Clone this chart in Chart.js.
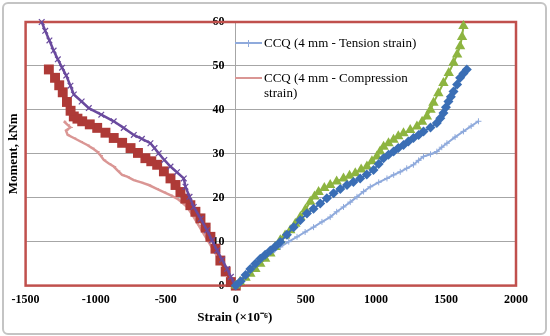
<!DOCTYPE html>
<html>
<head>
<meta charset="utf-8">
<script src="https://cdn.jsdelivr.net/npm/chart.js@4.4.1/dist/chart.umd.min.js"></script>
<style>
    body { margin: 0; background: #fff; }
    #caixa { position: relative; width: 550px; height: 336px; }
    #moldura { position: absolute; left: 2px; top: 2px; width: 541px; height: 329px; border: 2px solid #c4c4c4; border-radius: 6px; pointer-events: none; }
    .item { position: absolute; left: 235px; font-family: "Liberation Serif", "Times New Roman", serif; font-size: 13px; line-height: 15px; color: #000; }
    .amostra { position: absolute; left: 0; width: 27px; }
    .texto { position: absolute; left: 29px; top: 0; width: 170px; }
</style>
</head>
<body>
<div id="caixa">
    <canvas id="grafico" width="550" height="336"></canvas>
    <div id="moldura"></div>
    <div id="legenda"></div>
</div>
<script>
// strain (x10^-6) and moment (kNm)
const tracaoX = [0, 50, 104, 150, 199, 260, 318, 378, 437, 495, 555, 615, 674, 720, 769, 817, 865, 912, 960, 1020, 1079, 1127, 1174, 1220, 1268, 1305, 1340, 1390, 1435, 1470, 1507, 1565, 1625, 1680, 1732];
const tracaoY = [0, 1.7, 3.4, 4.8, 6.1, 7.5, 8.8, 10.0, 11.1, 12.2, 13.3, 14.5, 15.6, 16.8, 17.9, 19.0, 20.2, 21.4, 22.5, 23.5, 24.4, 25.2, 25.9, 26.7, 27.5, 28.5, 29.4, 29.9, 30.5, 31.5, 32.4, 33.8, 35.1, 36.3, 37.4];

const compressaoX = [0, -15, -50, -86, -122, -158, -193, -229, -265, -300, -324, -347, -383, -419, -467, -514, -567, -621, -675, -728, -775, -811, -841, -871, -906, -942, -965, -989, -1025, -1060, -1108, -1156, -1200, -1212, -1180, -1200, -1227];
const compressaoY = [0, 0.5, 2.3, 4.2, 6.1, 8.0, 9.9, 11.8, 13.7, 15.6, 16.8, 17.9, 18.9, 19.8, 20.6, 21.3, 22.1, 22.9, 23.5, 24.0, 24.8, 25.2, 26.1, 27.1, 27.8, 28.6, 29.6, 30.5, 31.3, 32.0, 32.8, 33.6, 34.3, 35.3, 36.0, 36.6, 37.4];

const quadradosX = [0, -35, -72, -110, -145, -181, -215, -252, -288, -324, -360, -395, -430, -466, -513, -561, -603, -645, -698, -751, -811, -871, -930, -989, -1042, -1096, -1130, -1156, -1179, -1205, -1235, -1260, -1290, -1334];
const quadradosY = [0, 0.8, 3.2, 5.7, 8.4, 11.1, 13.2, 15.3, 16.8, 18.3, 19.8, 21.3, 22.9, 24.4, 26.0, 27.5, 28.3, 29.0, 30.2, 31.3, 32.5, 33.6, 34.8, 35.9, 36.7, 37.4, 38.0, 38.5, 39.8, 41.8, 44.0, 45.6, 47.3, 49.2];

const cruzesX = [0, -10, -35, -62, -98, -133, -170, -205, -250, -300, -330, -359, -371, -420, -466, -510, -550, -580, -609, -670, -728, -800, -871, -960, -1049, -1100, -1156, -1180, -1210, -1240, -1270, -1300, -1330, -1360, -1385];
const cruzesY = [0, 0.5, 2.0, 3.8, 5.9, 8.0, 10.3, 12.6, 15.2, 17.9, 20.2, 22.5, 24.4, 25.8, 27.1, 28.6, 30.1, 31.3, 32.4, 33.4, 34.3, 35.9, 37.4, 38.9, 40.4, 41.9, 43.5, 45.5, 47.8, 49.6, 51.5, 53.5, 55.8, 58.0, 60.0];

const triangulosX = [0, 30, 70, 104, 140, 175, 210, 247, 282, 318, 352, 389, 425, 461, 497, 532, 562, 591, 632, 674, 720, 769, 812, 853, 895, 936, 972, 1007, 1030, 1055, 1090, 1126, 1160, 1197, 1245, 1293, 1330, 1364, 1390, 1411, 1446, 1482, 1520, 1554, 1580, 1601, 1615, 1625];
const triangulosY = [0, 0.8, 1.8, 2.7, 3.8, 5.0, 6.1, 7.3, 8.8, 10.3, 11.4, 12.6, 14.1, 15.6, 17.3, 19.1, 20.3, 21.3, 22.2, 22.9, 23.7, 24.4, 25.0, 25.6, 26.4, 27.1, 28.3, 29.4, 30.5, 31.6, 32.4, 33.2, 34.0, 34.7, 35.4, 36.2, 37.3, 38.5, 40.0, 41.6, 43.8, 46.1, 48.4, 50.7, 52.6, 54.5, 56.6, 59.1];

const losangosX = [0, 35, 70, 104, 140, 175, 210, 247, 282, 318, 365, 413, 460, 508, 555, 603, 650, 698, 746, 794, 840, 888, 935, 983, 1020, 1055, 1090, 1126, 1160, 1197, 1232, 1268, 1305, 1340, 1390, 1435, 1460, 1482, 1500, 1518, 1535, 1554, 1580, 1601, 1625, 1649];
const losangosY = [0, 1.0, 2.4, 3.8, 5.0, 6.1, 7.0, 8.0, 8.9, 9.9, 11.6, 13.3, 14.9, 16.4, 17.5, 18.7, 19.9, 21.0, 22.0, 22.9, 23.6, 24.4, 25.3, 26.3, 27.7, 29.0, 29.8, 30.5, 31.3, 32.0, 32.8, 33.6, 34.3, 35.1, 36.0, 37.0, 38.1, 39.3, 40.6, 41.9, 43.0, 44.2, 45.8, 47.3, 48.3, 49.2];

const ticksX = [-1500, 2000, 500];
const ticksY = [0, 60, 10];

const nomesLegenda = ['CCQ (4 mm - Tension strain)', 'CCQ (4 mm - Compression strain)'];
const tituloX = 'Strain (\u00d710\u207b\u2076)';
const tituloY = 'Moment, kNm';

const fonteSerif = '"Liberation Serif", "Times New Roman", serif';

function pontos(xs, ys) {
    const lista = [];
    for (let i = 0; i < xs.length; i++) {
        lista.push({ x: xs[i], y: ys[i] });
    }
    return lista;
}

// legenda em html, so as duas primeiras series
const legenda = document.getElementById('legenda');
const coresLegenda = ['#8FAADC', '#DA9694'];
const topos = [35, 70];
for (let i = 0; i < nomesLegenda.length; i++) {
    const item = document.createElement('div');
    item.className = 'item';
    item.style.top = topos[i] + 'px';
    let amostra = '<div class="amostra" style="top:7px;border-top:2.5px solid ' + coresLegenda[i] + '"></div>';
    if (i == 0) {
        amostra += '<div style="position:absolute;left:13px;top:5px;width:1px;height:7px;background:' + coresLegenda[i] + '"></div>';
    }
    item.innerHTML = amostra + '<div class="texto">' + nomesLegenda[i] + '</div>';
    legenda.appendChild(item);
}

const moldura = {
    id: 'moldura',
    beforeDatasetsDraw(chart) {
        const a = chart.chartArea;
        const ctx = chart.ctx;
        ctx.save();
        ctx.strokeStyle = '#C0504D';
        ctx.lineWidth = 2.5;
        ctx.strokeRect(a.left, a.top, a.right - a.left, a.bottom - a.top);
        ctx.restore();
    },
    afterDraw(chart) {
        const ctx = chart.ctx;
        ctx.save();
        ctx.font = 'bold 13px ' + fonteSerif;
        ctx.fillStyle = '#000';
        ctx.textAlign = 'center';
        ctx.textBaseline = 'middle';
        ctx.fillText(tituloX, chart.scales.x.getPixelForValue(0) - 1, 318);
        ctx.restore();
    }
};

const ctx1 = document.getElementById('grafico');

new Chart(ctx1, {
    type: 'line',
    data: {
        datasets: [{
            label: 'CCQ losangos',
            data: pontos(losangosX, losangosY),
            borderColor: '#3A6EB5',
            backgroundColor: '#3A6EB5',
            borderWidth: 2,
            pointStyle: 'rectRot',
            pointRadius: 5,
            pointBorderWidth: 0
        }, {
            label: 'CCQ triangulos',
            data: pontos(triangulosX, triangulosY),
            borderColor: '#8DB440',
            backgroundColor: '#8DB440',
            borderWidth: 2,
            pointStyle: 'triangle',
            pointRadius: 6,
            pointBorderWidth: 0
        }, {
            label: 'CCQ cruzes',
            data: pontos(cruzesX, cruzesY),
            borderColor: '#6A4A9E',
            backgroundColor: '#6A4A9E',
            borderWidth: 2.5,
            pointStyle: 'crossRot',
            pointRadius: 4,
            pointBorderWidth: 1.2
        }, {
            label: 'CCQ quadrados',
            data: pontos(quadradosX, quadradosY),
            borderColor: '#AE3A37',
            backgroundColor: '#AE3A37',
            borderWidth: 2,
            pointStyle: 'rect',
            pointRadius: 7,
            pointBorderWidth: 0
        }, {
            label: nomesLegenda[1],
            data: pontos(compressaoX, compressaoY),
            borderColor: '#DA9694',
            backgroundColor: '#DA9694',
            borderWidth: 2.5,
            pointStyle: 'dash',
            pointRadius: 2.5,
            pointBorderWidth: 1
        }, {
            label: nomesLegenda[0],
            data: pontos(tracaoX, tracaoY),
            borderColor: '#8FAADC',
            backgroundColor: '#8FAADC',
            borderWidth: 2,
            pointStyle: 'cross',
            pointRadius: 3,
            pointBorderWidth: 1
        }]
    },
    options: {
        responsive: false,
        animation: false,
        clip: false,
        layout: {
            padding: { left: 2, right: 34, top: 22, bottom: 22 }
        },
        elements: {
            line: { tension: 0, fill: false }
        },
        plugins: {
            legend: { display: false },
            tooltip: { enabled: false }
        },
        scales: {
            x: {
                type: 'linear',
                position: 'bottom',
                min: ticksX[0],
                max: ticksX[1],
                ticks: {
                    stepSize: ticksX[2],
                    padding: 7,
                    color: '#000',
                    font: { family: fonteSerif, size: 12, weight: 'bold' },
                    callback: function (valor) { return String(valor); }
                },
                // so a linha vertical do zero aparece
                grid: {
                    drawTicks: false,
                    lineWidth: 1,
                    color: function (c) { return c.tick && c.tick.value == 0 ? '#A6A6A6' : 'rgba(0,0,0,0)'; }
                },
                border: { display: false }
            },
            y: {
                type: 'linear',
                position: { x: -80 },
                min: ticksY[0],
                max: ticksY[1],
                ticks: {
                    stepSize: ticksY[2],
                    color: '#000',
                    font: { family: fonteSerif, size: 12, weight: 'bold' }
                },
                grid: { color: '#A6A6A6', lineWidth: 1, drawTicks: false },
                border: { display: false }
            },
            titulo: {
                type: 'linear',
                axis: 'y',
                position: 'left',
                ticks: { display: false },
                grid: { display: false, drawTicks: false },
                border: { display: false },
                title: {
                    display: true,
                    text: tituloY,
                    color: '#000',
                    padding: { top: 4, bottom: 4 },
                    font: { family: fonteSerif, size: 13, weight: 'bold' }
                }
            }
        }
    },
    plugins: [moldura]
});
</script>
</body>
</html>
